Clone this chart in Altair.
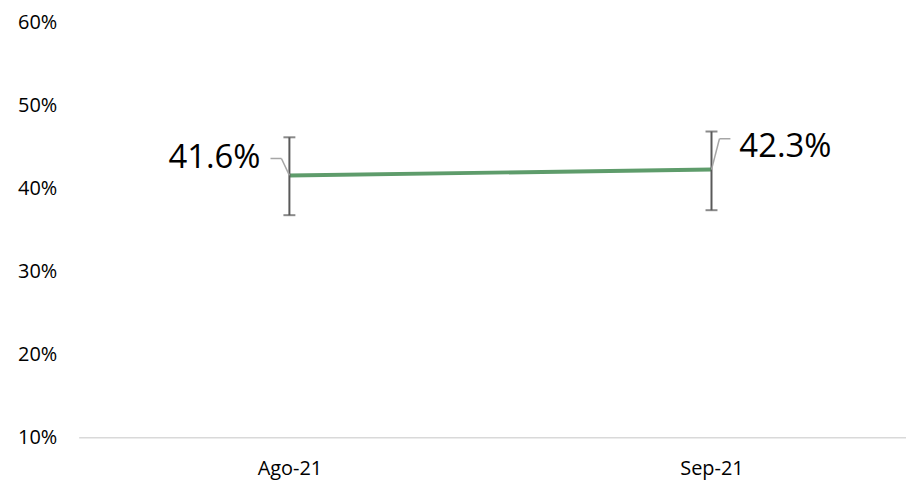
import altair as alt
import pandas as pd

months = ["Ago-21", "Sep-21"]
values = [0.416, 0.423]
lows = [0.368, 0.374]
highs = [0.462, 0.469]
labels = ["41.6%", "42.3%"]
y_ticks = [0.1, 0.2, 0.3, 0.4, 0.5, 0.6]

df = pd.DataFrame({"month": months, "value": values, "low": lows,
                   "high": highs, "label": labels})

FONT = "Open Sans"
GREEN = "#5e9c6b"
BAR = "#595959"
LEAD = "#a6a6a6"

xenc = alt.X("month:N", sort=months,
             scale=alt.Scale(type="point", padding=0.48, align=0.52),
             axis=alt.Axis(title=None, labelAngle=0, ticks=False,
                           domainColor="#d9d9d9", domainWidth=1.5,
                           labelPadding=22, labelFontSize=20, labelColor="#000000",
                           labelFont=FONT, labelFontWeight="normal"))
yscale = alt.Scale(domain=[0.1, 0.6])
yenc = alt.Y("value:Q", scale=yscale,
             axis=alt.Axis(title=None, format=".0%", values=y_ticks, grid=False,
                           domain=False, ticks=False, labelPadding=22,
                           labelFontSize=20, labelColor="#000000", labelFont=FONT))

base = alt.Chart(df)

line = base.mark_line(color=GREEN, strokeWidth=4).encode(x=xenc, y=yenc)

err = base.mark_rule(color=BAR, strokeWidth=2).encode(
    x=alt.X("month:N", sort=months), y=alt.Y("low:Q", scale=yscale), y2="high:Q")
cap_lo = base.mark_tick(color=BAR, thickness=2, size=12).encode(
    x=alt.X("month:N", sort=months), y=alt.Y("low:Q", scale=yscale))
cap_hi = base.mark_tick(color=BAR, thickness=2, size=12).encode(
    x=alt.X("month:N", sort=months), y=alt.Y("high:Q", scale=yscale))

def seg(month, xo, yo, x2o, y2o):
    return base.transform_filter(alt.datum.month == month).mark_rule(
        color=LEAD, strokeWidth=1.5, xOffset=xo, yOffset=yo,
        x2Offset=x2o, y2Offset=y2o).encode(
        x=alt.X("month:N", sort=months), y=alt.Y("value:Q", scale=yscale),
        x2="month:N", y2="value:Q")

lead = [
    seg("Ago-21", -19, -17, -8, -17),
    seg("Ago-21", -8, -17, 0, 0),
    seg("Sep-21", 0, 0, 8, -31),
    seg("Sep-21", 8, -31, 19, -31),
]

txt_a = base.transform_filter(alt.datum.month == "Ago-21").mark_text(
    align="right", baseline="middle", dx=-29, dy=-17, fontSize=33,
    font=FONT, color="#000000").encode(
    x=alt.X("month:N", sort=months), y=alt.Y("value:Q", scale=yscale), text="label:N")
txt_s = base.transform_filter(alt.datum.month == "Sep-21").mark_text(
    align="left", baseline="middle", dx=28, dy=-23, fontSize=33,
    font=FONT, color="#000000").encode(
    x=alt.X("month:N", sort=months), y=alt.Y("value:Q", scale=yscale), text="label:N")

chart = alt.layer(line, err, cap_lo, cap_hi, *lead, txt_a, txt_s).properties(
    width=831, height=416, background="white",
    autosize=alt.AutoSizeParams(type="none"),
    padding={"left": 71, "top": 14, "right": 0, "bottom": 50},
).configure_view(strokeWidth=0, stroke="transparent")

chart.save("out.html", embed_options={"renderer": "svg", "actions": False})
